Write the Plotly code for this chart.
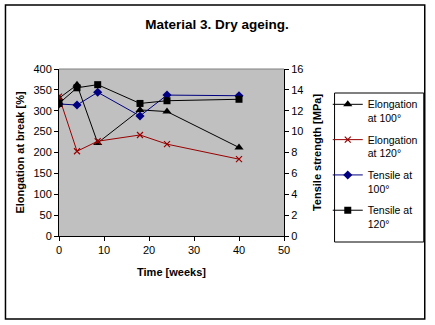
import plotly.graph_objects as go

weeks = [0, 4, 8.6, 18, 24, 40]
elong_100 = [330, 362, 223, 302, 298, 212]
elong_120 = [334, 203, 227, 242, 220, 184]
tensile_100 = [12.65, 12.55, 13.77, 11.5, 13.5, 13.44]
tensile_120 = [12.7, 14.2, 14.5, 12.7, 12.96, 13.1]

FONT = "Arial, Liberation Sans, sans-serif"

fig = go.Figure()
fig.add_trace(go.Scatter(x=weeks, y=elong_100, name="Elongation<br>at 100°", legendgroup="a",
                         mode="lines+markers", line=dict(color="black", width=1),
                         marker=dict(symbol="triangle-up", size=8, color="black")))
fig.add_trace(go.Scatter(x=weeks, y=elong_120, name="Elongation<br>at 120°", legendgroup="b",
                         mode="lines+markers", line=dict(color="#990000", width=1),
                         marker=dict(symbol="x-thin-open", size=6, line=dict(color="#cc0000", width=1.2))))
fig.add_trace(go.Scatter(x=weeks, y=tensile_100, name="Tensile at<br>100°", legendgroup="c", yaxis="y2",
                         mode="lines+markers", line=dict(color="#000080", width=1),
                         marker=dict(symbol="diamond", size=7, color="#000080")))
fig.add_trace(go.Scatter(x=weeks, y=tensile_120, name="Tensile at<br>120°", legendgroup="d", yaxis="y2",
                         mode="lines+markers", line=dict(color="black", width=1),
                         marker=dict(symbol="square", size=7, color="black")))

axis_common = dict(showgrid=False, zeroline=False, showline=True, linecolor="black", linewidth=1,
                   ticks="outside", ticklen=4, tickcolor="black", automargin=False,
                   tickfont=dict(family=FONT, size=11, color="black"))

fig.update_layout(
    width=435, height=325,
    margin=dict(l=59, r=149, t=69, b=89),
    paper_bgcolor="white", plot_bgcolor="#c0c0c0",
    font=dict(family=FONT, color="black"),
    title=dict(text="<b>Material 3. Dry ageing.</b>", x=(217 / 435), xanchor="center",
               y=1 - 24 / 325, yanchor="middle", font=dict(family=FONT, size=13.5, color="black")),
    xaxis=dict(range=[0, 50], dtick=10, title=dict(text="<b>Time [weeks]</b>", standoff=13,
               font=dict(family=FONT, size=11)), **axis_common),
    yaxis=dict(range=[0, 400], dtick=50, title=dict(text="<b>Elongation at break [%]</b>", standoff=6,
               font=dict(family=FONT, size=11)), **axis_common),
    yaxis2=dict(range=[0, 16], dtick=2, overlaying="y", side="right",
                title=dict(text="<b>Tensile strength [MPa]</b>", standoff=10, font=dict(family=FONT, size=11)),
                **axis_common),
    showlegend=True,
    legend=dict(x=(426 - 59) / 227, y=(236 - 91) / 167, xanchor="right", yanchor="top",
                bgcolor="rgba(0,0,0,0)", borderwidth=0, valign="top",
                tracegroupgap=5, itemwidth=30,
                font=dict(family=FONT, size=10.5, color="black")),
    shapes=[
        dict(type="rect", xref="paper", yref="paper",
             x0=(5 - 59) / 227, x1=(428 - 59) / 227, y0=(236 - 319) / 167, y1=(236 - 5) / 167,
             line=dict(color="black", width=1.5), layer="below"),
        dict(type="rect", xref="paper", yref="paper",
             x0=(337 - 59) / 227, x1=(427 - 59) / 227, y0=(236 - 242) / 167, y1=(236 - 93) / 167,
             line=dict(color="black", width=1), layer="below"),
        dict(type="line", xref="paper", yref="paper", x0=0, x1=1, y0=1, y1=1,
             line=dict(color="#808080", width=1)),
    ],
)

fig.write_html("out.html")
